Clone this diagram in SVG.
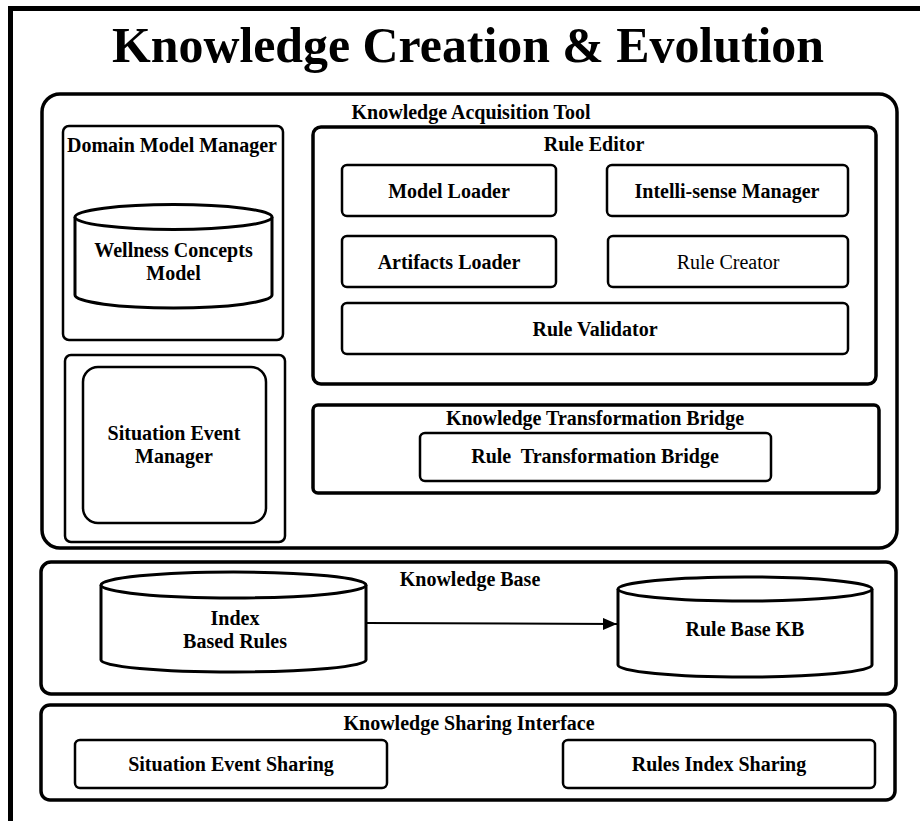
<svg xmlns="http://www.w3.org/2000/svg" width="920" height="821" viewBox="0 0 920 821">
<style>
text{font-family:'Liberation Serif','DejaVu Serif',serif;font-weight:700;font-size:20px;fill:#000;text-anchor:middle}
.title{font-size:51px}
.normal{font-weight:400}
.outer{fill:none;stroke:#000;stroke-width:3.5}
.box{fill:#fff;stroke:#000;stroke-width:2.5}
.cyl{fill:#fff;stroke:#000;stroke-width:3}
.conn{stroke:#000;stroke-width:2;fill:none}
</style>
<defs>
<marker id="arr" markerWidth="14" markerHeight="12" refX="14" refY="6" orient="auto" markerUnits="userSpaceOnUse">
<path d="M0,0 L14,6 L0,12 Z" fill="#000"/>
</marker>
</defs>
<rect width="920" height="821" fill="#fff"/>
<path d="M10.5,821 V8.5 H920" fill="none" stroke="#000" stroke-width="5"/>
<text class="title" x="468" y="62" textLength="712" lengthAdjust="spacingAndGlyphs">Knowledge Creation &amp; Evolution</text>

<g id="knowledge-acquisition-tool">
<rect class="outer" x="42" y="94" width="855" height="454" rx="18"/>
<text x="471" y="119">Knowledge Acquisition Tool</text>
</g>
<g id="domain-model-manager">
<rect class="box" x="63" y="126" width="220" height="214" rx="6"/>
<text x="172" y="152">Domain Model Manager</text>
</g>
<g id="wellness-concepts-model">
<path class="cyl" d="M75,217 A98.5,12.5 0 0,1 272,217 V295 A98.5,13 0 0,1 75,295 Z"/>
<path class="cyl" d="M75,217 A98.5,12.5 0 0,0 272,217"/>
<text x="173.5" y="257">Wellness Concepts</text>
<text x="173.5" y="280">Model</text>
</g>
<g id="situation-event-manager-outer">
<rect class="box" x="65" y="355" width="220" height="187" rx="6"/>
</g>
<g id="situation-event-manager">
<rect class="box" x="83" y="367" width="183" height="156" rx="15"/>
<text x="174" y="440">Situation Event</text>
<text x="174" y="463">Manager</text>
</g>
<g id="rule-editor">
<rect class="outer" x="313" y="127" width="563" height="257" rx="8"/>
<text x="594" y="151">Rule Editor</text>
</g>
<g id="model-loader">
<rect class="box" x="342" y="165" width="214" height="51" rx="5"/>
<text x="449" y="198">Model Loader</text>
</g>
<g id="intelli-sense-manager">
<rect class="box" x="607" y="165" width="241" height="51" rx="5"/>
<text x="727" y="198">Intelli-sense Manager</text>
</g>
<g id="artifacts-loader">
<rect class="box" x="342" y="236" width="214" height="51" rx="5"/>
<text x="449" y="269">Artifacts Loader</text>
</g>
<g id="rule-creator">
<rect class="box" x="608" y="236" width="240" height="51" rx="5"/>
<text class="normal" x="728" y="269">Rule Creator</text>
</g>
<g id="rule-validator">
<rect class="box" x="342" y="303" width="506" height="51" rx="5"/>
<text x="595" y="336">Rule Validator</text>
</g>
<g id="knowledge-transformation-bridge">
<rect class="outer" x="313" y="405" width="566" height="88" rx="5"/>
<text x="595" y="425">Knowledge Transformation Bridge</text>
</g>
<g id="rule-transformation-bridge">
<rect class="box" x="420" y="433" width="351" height="48" rx="5"/>
<text x="595" y="463" xml:space="preserve">Rule  Transformation Bridge</text>
</g>

<g id="knowledge-base">
<rect class="outer" x="41" y="562" width="855" height="132" rx="10"/>
<text x="470" y="586">Knowledge Base</text>
</g>
<g id="index-based-rules">
<path class="cyl" d="M101,585 A132.5,13 0 0,1 366,585 V660 A132.5,12 0 0,1 101,660 Z"/>
<path class="cyl" d="M101,585 A132.5,13 0 0,0 366,585"/>
<text x="235" y="625">Index</text>
<text x="235" y="648">Based Rules</text>
</g>
<g id="rule-base-kb">
<path class="cyl" d="M618,589 A127,12 0 0,1 872,589 V665 A127,12 0 0,1 618,665 Z"/>
<path class="cyl" d="M618,589 A127,12 0 0,0 872,589"/>
<text x="745" y="636">Rule Base KB</text>
</g>
<g id="connectors">
<line class="conn" x1="366" y1="623" x2="617" y2="624" marker-end="url(#arr)"/>
</g>

<g id="knowledge-sharing-interface">
<rect class="outer" x="41" y="705" width="854" height="95" rx="9"/>
<text x="469" y="730">Knowledge Sharing Interface</text>
</g>
<g id="situation-event-sharing">
<rect class="box" x="75" y="740" width="312" height="48" rx="5"/>
<text x="231" y="771">Situation Event Sharing</text>
</g>
<g id="rules-index-sharing">
<rect class="box" x="563" y="740" width="312" height="48" rx="5"/>
<text x="719" y="771">Rules Index Sharing</text>
</g>
</svg>
